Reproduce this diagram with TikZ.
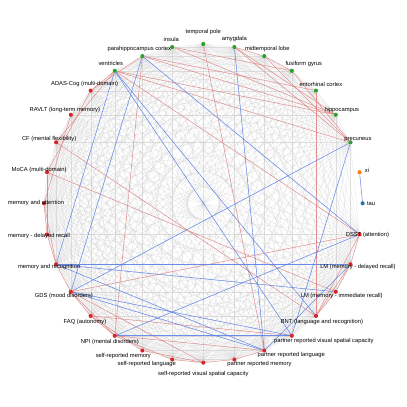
\documentclass[tikz,border=0pt]{standalone}
\usepackage{fontspec}
\setmainfont{Liberation Sans}
\usetikzlibrary{calc}
\pgfdeclarelayer{bg}
\pgfsetlayers{bg,main}
\definecolor{tgreen}{RGB}{44,160,44}
\definecolor{tred}{RGB}{214,39,40}
\definecolor{torange}{RGB}{255,127,14}
\definecolor{tblue}{RGB}{31,119,180}
\definecolor{redge}{RGB}{228,110,110}
\definecolor{bedge}{RGB}{85,125,235}
\definecolor{gedge}{RGB}{195,195,195}
\tikzset{
  dot/.style={circle,inner sep=0pt,minimum size=4.2pt,draw=none},
  lbl/.style={font=\fontsize{5.8}{6}\selectfont,inner sep=0pt,text=black},
  grayedge/.style={draw=gedge,line width=0.25pt,opacity=0.5},
  rededge/.style={draw=redge,line width=0.5pt,opacity=0.7},
  blueedge/.style={draw=bedge,line width=0.55pt,opacity=0.85}
}
\begin{document}
\begin{tikzpicture}[x=1pt,y=1pt]
\useasboundingbox (0,0) rectangle (407,407);
\coordinate (C) at (203.3,203.7);
% nodes
\foreach \i/\c in {0/tgreen,1/tgreen,2/tgreen,3/tgreen,4/tgreen,5/tgreen,6/tgreen,7/torange,8/tblue,
  9/tred,10/tred,11/tred,12/tred,13/tred,14/tred,15/tred,16/tred,17/tred,18/tred,19/tred,20/tred,
  21/tred,22/tred,23/tred,24/tred,25/tred,26/tred,27/tred,28/tred,29/tgreen,30/tgreen,31/tgreen}
  \node[dot,fill=\c] (d\i) at ($(C)+({90-11.25*\i}:159.3)$) {};
% labels
\foreach \i/\dx/\dy/\t in {
  0/0/12/temporal pole,
  1/0/8/amygdala,
  2/3/7/midtemporal lobe,
  3/12/7/fusiform gyrus,
  4/5/6/entorhinal cortex,
  5/6/5/hippocampus,
  6/7.5/3/precuneus,
  7/7.5/2/xi,
  8/8.5/0/tau,
  9/8/-0.6/DSST (attention),
  10/7.5/-3/LM (memory - delayed recall),
  11/6/-4/LM (memory - immediate recall),
  12/6/-6/BNT (language and recognition),
  13/32/-5/partner reported visual spatial capacity,
  14/27/-4.5/partner reported language,
  15/25/-4.5/partner reported memory,
  16/0/-11.5/self-reported visual spatial capacity,
  17/-25.5/-4.5/self-reported language,
  18/-19/-5.5/self-reported memory,
  19/-5/-6/NPI (mental disorders),
  20/-5.7/-6/FAQ (autonomy),
  21/-7/-4.5/GDS (mood disorders),
  22/-7/-3/memory and recognition,
  23/-8/-1.6/memory - delayed recall,
  24/-8/0.6/memory and attention,
  25/-8/2/MoCA (multi-domain),
  26/-7/3/CF (mental flexibility),
  27/-6/5/RAVLT (long-term memory),
  28/-6/6.4/ADAS-Cog (multi-domain),
  29/-4/7/ventricles,
  30/-3/7/parahippocampus cortex,
  31/-1/8/insula}
  \node[lbl] (l\i) at ($(d\i)+(\dx,\dy)$) {\t};
\begin{pgfonlayer}{bg}
\fill[white] (0,0) rectangle (407,407);
% complete graph among the 30 measured nodes
\foreach \i in {0,1,2,3,4,5,6,9,10,11,12,13,14,15,16,17,18,19,20,21,22,23,24,25,26,27,28,29,30,31}{
  \foreach \j in {0,1,2,3,4,5,6,9,10,11,12,13,14,15,16,17,18,19,20,21,22,23,24,25,26,27,28,29,30,31}{
    \ifnum\i<\j \draw[grayedge] (d\i) -- (d\j); \fi
  }
}
% red edges
\foreach \a/\b in {31/3,31/5,30/4,30/5,29/5,29/6,1/6,2/6,1/5,1/2,2/3,3/6,0/14,4/12,30/19,29/9,
  26/12,25/11,21/9,21/16,20/13,19/14,29/26,28/25,27/24,25/23,24/22,23/22,24/23,22/21,21/20,21/19,20/19,
  19/17,18/16,17/16,16/15,15/14,12/11,11/10,10/9,12/10,12/9,30/28,29/28,20/18}
  \draw[rededge] (d\a) -- (d\b);
% blue edges
\foreach \a/\b in {7/8,29/22,30/21,1/14,21/6,22/10,19/13,6/13,29/12,30/9,22/11,22/14,21/14,21/13,19/9,10/14,29/13}
  \draw[blueedge] (d\a) -- (d\b);
\end{pgfonlayer}
\end{tikzpicture}
\end{document}
